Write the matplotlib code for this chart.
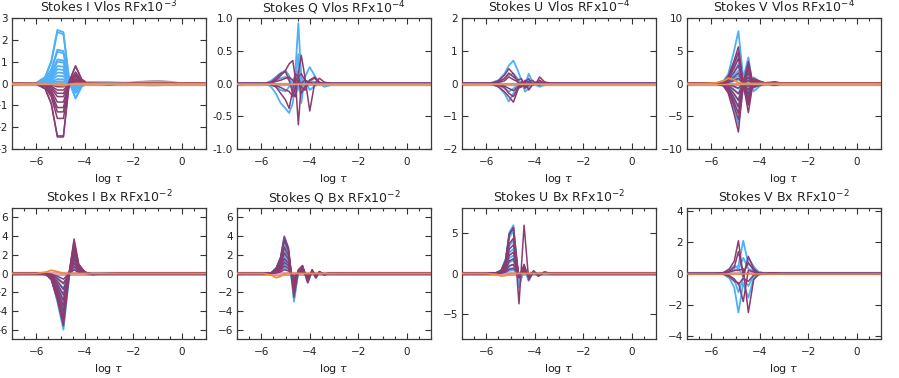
import matplotlib.pyplot as plt
import numpy as np
from matplotlib.ticker import MultipleLocator

# colours of the curve families
blue = '#4fb0f8'
purple = '#8a3b6f'
orange = '#f08a3c'
gray = '#a8a8a8'
pink = '#e2a3b4'

# ---- Stokes I, Vlos (x1e-3)
i_vlos_tau = [-7.0, -6.0, -5.63, -5.38, -5.13, -4.88, -4.63, -4.38, -4.13, -3.88, -3.0, -2.0, -0.3, 1.0]
i_vlos_blue = [0, 0.01, 0.12, 0.42, 1.0, 0.96, 0.02, -0.28, -0.06, 0.02, 0.02, 0.01, 0.0, 0]
i_vlos_blue_amp = [2.45, 2.35, 1.55, 1.45, 1.1, 1.0, 0.8, 0.65, 0.5, 0.35, 0.2, 0.1]
i_vlos_purple = [0, -0.01, -0.1, -0.38, -1.0, -1.0, 0.05, 0.33, 0.08, 0.0, -0.02, 0, 0, 0]
i_vlos_purple_amp = [2.45, 2.4, 1.6, 1.3, 1.1, 0.85, 0.6, 0.45, 0.3, 0.15]
i_vlos_orange = [0, 0, 0, -0.03, -0.08, -0.1, -0.03, 0, 0, 0, 0, 0, 0, 0]
i_vlos_gray_tau = [-7.0, -2.4, -1.8, -1.3, -0.9, -0.5, -0.1, 1.0]
i_vlos_gray = [[0, 0, 0.05, 0.09, 0.1, 0.06, 0, 0], [0, 0, -0.04, -0.07, -0.06, -0.03, 0, 0],
               [0, 0, 0.02, 0.04, 0.05, 0.03, 0, 0]]

# ---- Stokes Q, Vlos (x1e-4)
q_vlos_tau = [-7.0, -5.8, -5.6, -5.4, -5.2, -5.0, -4.85, -4.7, -4.6, -4.47, -4.35, -4.2, -4.0, -3.8, -3.6, -3.4, -3.1, -2.9, 1.0]
q_vlos_blue = [
    [0, 0, 0.02, 0.05, 0.08, 0.1, 0.05, -0.05, 0.15, 0.92, 0.1, -0.05, 0.0, 0, 0, 0, 0, 0, 0],
    [0, 0, -0.05, -0.15, -0.3, -0.38, -0.45, -0.3, 0.0, 0.45, -0.3, 0.1, 0.25, 0.12, 0.0, -0.05, -0.02, 0, 0],
    [0, 0.01, 0.04, 0.1, 0.16, 0.2, 0.12, -0.12, -0.2, -0.05, -0.2, 0.05, -0.1, -0.04, 0.0, 0, 0, 0, 0],
    [0, 0, -0.02, -0.05, -0.1, -0.12, -0.05, 0.05, 0.1, 0.2, 0.05, -0.1, 0.05, 0.02, 0, 0, 0, 0, 0],
]
q_vlos_purple = [
    [0, 0, 0.02, 0.05, 0.12, 0.2, 0.3, 0.35, 0.1, -0.63, 0.0, 0.05, 0.02, 0, 0, 0, 0, 0, 0],
    [0, 0, 0.01, 0.03, 0.05, 0.08, 0.1, 0.05, 0.0, 0.15, 0.43, 0.1, -0.42, 0.0, 0.08, 0.02, 0, 0, 0],
    [0, 0, -0.02, -0.05, -0.15, -0.25, -0.38, -0.1, 0.15, 0.1, -0.05, -0.1, 0.05, 0.1, 0.02, 0, 0, 0, 0],
    [0, 0, 0.02, 0.08, 0.15, 0.18, 0.05, -0.15, -0.2, 0.1, 0.15, 0.05, 0.0, -0.02, 0.0, 0, 0, 0, 0],
    [0, 0, -0.01, -0.03, -0.06, -0.1, -0.12, -0.2, -0.05, 0.05, -0.15, -0.05, 0.05, 0.08, 0.0, 0, 0, 0, 0],
]

# ---- Stokes U, Vlos (x1e-4)
u_vlos_tau = [-7.0, -6.3, -5.8, -5.5, -5.25, -5.07, -4.88, -4.7, -4.55, -4.4, -4.25, -4.1, -3.95, -3.8, -3.6, -3.3, -2.4, 1.0]
u_vlos_blue = [
    [0, 0, 0.02, 0.1, 0.3, 0.55, 0.7, 0.4, 0.1, -0.05, 0.3, 0.05, -0.05, -0.1, -0.05, 0.0, 0, 0],
    [0, 0, -0.02, -0.1, -0.3, -0.55, -0.3, -0.1, 0.05, -0.25, -0.15, 0.0, 0.05, 0.02, 0.0, 0, 0, 0],
    [0, 0, 0.01, 0.05, 0.15, 0.25, 0.3, 0.15, -0.05, -0.1, 0.1, 0.02, 0, -0.05, 0, 0, 0, 0],
    [0, 0, -0.01, -0.05, -0.15, -0.25, -0.15, -0.05, 0.05, 0.05, -0.1, 0, 0.02, 0, 0, 0, 0, 0],
]
u_vlos_purple = [
    [0, 0, 0.01, 0.08, 0.25, 0.45, 0.3, 0.05, -0.1, 0.05, 0.15, -0.05, 0.0, 0.2, 0.05, 0, 0, 0],
    [0, 0, -0.01, -0.1, -0.25, -0.4, -0.57, -0.2, 0.05, -0.15, -0.05, 0.0, -0.02, -0.05, 0, 0, 0, 0],
    [0, 0, 0.01, 0.05, 0.15, 0.32, 0.2, 0.1, 0.15, -0.1, 0.05, 0.1, 0, 0.1, 0, 0, 0, 0],
    [0, 0, -0.01, -0.05, -0.12, -0.3, -0.4, -0.15, -0.1, 0.05, -0.2, -0.05, 0, 0, 0, 0, 0, 0],
    [0, 0, 0, 0.03, 0.08, 0.2, 0.12, 0.05, -0.05, 0.1, 0.02, 0, 0, 0.05, 0, 0, 0, 0],
    [0, 0, 0, -0.03, -0.08, -0.15, -0.22, -0.1, 0, -0.05, 0.02, 0, 0, 0, 0, 0, 0, 0],
]

# ---- Stokes V, Vlos (x1e-4)
v_vlos_tau = [-7.0, -6.3, -5.8, -5.5, -5.3, -5.07, -4.88, -4.68, -4.47, -4.25, -4.0, -3.7, -3.4, -3.1, -2.2, 1.0]
v_vlos_blue = [0, 0, 0.01, 0.05, 0.18, 0.6, 1.0, 0.1, 0.5, -0.15, -0.05, 0.02, 0.03, 0.01, 0, 0]
v_vlos_blue_amp = [8.0, 4.3, 3.0, 2.0, 1.2, 0.6, -0.8, -1.5, -2.5, -3.5, -4.5, -6.3]
v_vlos_purple = [0, 0, 0.01, 0.05, 0.2, 0.6, 1.0, 0.0, 0.6, -0.1, -0.05, 0.0, 0.04, 0.01, 0, 0]
v_vlos_purple_amp = [5.6, 4.8, 3.8, 2.7, 1.6, 0.8, -0.7, -1.6, -2.6, -3.6, -4.6, -5.5, -7.4]
v_vlos_orange = [0, 0, 0.1, 0.4, 0.8, 0.6, 0.1, 0, 0, 0, 0, 0, 0, 0, 0, 0]

# ---- Stokes I, Bx (x1e-2)
i_bx_tau = [-7.0, -6.0, -5.6, -5.38, -5.13, -4.88, -4.63, -4.44, -4.25, -4.0, -3.7, -3.2, -2.5, 1.0]
i_bx_blue = [0, 0, -0.02, -0.08, -0.5, -1.0, 0.0, 0.45, 0.12, 0.02, -0.01, -0.01, 0, 0]
i_bx_blue_amp = [6.0, 5.6, 5.2, 4.6, 4.0, 3.4, 2.8, 2.2, 1.6, 1.0]
i_bx_purple = [0, 0, -0.02, -0.12, -0.5, -1.0, 0.05, 0.66, 0.18, 0.03, -0.02, -0.01, 0, 0]
i_bx_purple_amp = [5.6, 5.2, 4.7, 4.1, 3.5, 2.9, 2.3, 1.7, 1.1, 0.6]
i_bx_orange = [0, 0, 0.15, 0.35, 0.2, 0.0, 0, 0, 0, 0, 0, 0, 0, 0]

# ---- Stokes Q, Bx (x1e-2)
q_bx_tau = [-7.0, -5.9, -5.6, -5.38, -5.2, -5.05, -4.88, -4.65, -4.47, -4.3, -4.08, -3.9, -3.75, -3.6, -3.4, -3.2, -2.6, 1.0]
q_bx_blue = [0, 0, 0.01, 0.15, 0.42, 1.0, 0.68, -0.75, 0.05, 0.2, -0.25, 0.1, -0.12, 0.05, -0.04, 0.01, 0, 0]
q_bx_blue_amp = [4.0, 3.7, 3.1, 2.5, 1.9, 1.4, 1.0, 0.6]
q_bx_purple = [0, 0, 0.01, 0.15, 0.45, 1.0, 0.7, -0.65, 0.1, 0.22, -0.25, 0.1, -0.12, 0.05, -0.04, 0.01, 0, 0]
q_bx_purple_amp = [3.9, 3.5, 2.8, 2.2, 1.6, 1.2, 0.8, 0.4]
q_bx_orange = [0, 0, -0.15, -0.45, -0.3, -0.05, 0, 0, 0, 0, 0, 0, 0, 0, 0, 0, 0, 0]

# ---- Stokes U, Bx (x1e-2)
u_bx_tau = [-7.0, -6.0, -5.6, -5.38, -5.2, -5.05, -4.88, -4.65, -4.44, -4.25, -4.05, -3.85, -3.6, -3.3, -3.0, 1.0]
u_bx_blue = [0, 0, 0.01, 0.07, 0.3, 0.85, 1.0, -0.3, 0.15, -0.15, 0.05, -0.05, 0.03, -0.01, 0, 0]
u_bx_blue_amp = [5.9, 5.6, 5.2, 4.0, 3.0, 2.2, 1.6, 1.1, 0.7, 0.4]
u_bx_purple = [0, 0, 0.01, 0.07, 0.3, 0.85, 1.0, -0.1, 0.2, -0.1, 0.05, -0.05, 0.03, 0, 0, 0]
u_bx_purple_amp = [5.6, 4.3, 3.5, 2.6, 1.8, 1.1, 0.6]
u_bx_purple_spike = [0, 0, 0.05, 0.4, 1.5, 4.8, 5.6, -3.7, 5.9, -0.8, 0.3, -0.3, 0.1, -0.05, 0, 0]
u_bx_orange = [0, 0, -0.1, -0.3, -0.25, -0.05, 0, 0, 0, 0, 0, 0, 0, 0, 0, 0]

# ---- Stokes V, Bx (x1e-2)
v_bx_tau = [-7.0, -5.9, -5.5, -5.25, -5.05, -4.88, -4.68, -4.47, -4.25, -4.05, -3.8, -3.4, -3.2, -2.3, 1.0]
v_bx_blue = [
    [0, 0, 0.05, 0.2, 0.35, 0.5, 2.1, 0.6, 0.35, 0.1, 0.02, 0, 0, 0, 0],
    [0, 0, -0.05, -0.3, -0.9, -2.5, -0.6, -1.55, -0.3, -0.1, 0, 0, 0, 0, 0],
    [0, 0, 0.03, 0.2, 0.5, 0.3, -0.2, 1.0, 0.45, 0.1, 0, 0, 0, 0, 0],
    [0, 0, -0.03, -0.15, -0.4, -1.2, -0.3, -0.8, -0.15, -0.05, 0, 0, 0, 0, 0],
    [0, 0, 0.02, 0.1, 0.2, 0.25, 1.0, 0.3, 0.15, 0.05, 0, 0, 0, 0, 0],
]
v_bx_purple = [
    [0, 0, 0.05, 0.3, 0.8, 2.1, -0.2, 1.1, 0.3, 0.05, 0, 0.05, 0, 0, 0],
    [0, 0, -0.03, -0.2, -0.5, -0.6, -1.8, 0.2, 0.1, 0, 0, 0, 0, 0, 0],
    [0, 0, 0.02, 0.1, 0.2, 0.2, 0.3, -2.5, -0.4, -0.05, 0, -0.03, 0, 0, 0],
    [0, 0, 0.03, 0.15, 0.4, 1.4, 0.0, 0.7, 0.2, 0.03, 0, 0.05, 0, 0, 0],
    [0, 0, -0.02, -0.15, -0.35, -0.7, -0.3, -0.5, -0.1, 0, 0, 0, 0, 0, 0],
]

# flat levels under the bottom row curves
bx_blue_level = [-0.15, -0.15, -0.15, -0.06]
bx_pink_level = [0.08, 0.08, 0.1, 0.04]

titles = ['Stokes I Vlos RFx10$^{-3}$', 'Stokes Q Vlos RFx10$^{-4}$',
          'Stokes U Vlos RFx10$^{-4}$', 'Stokes V Vlos RFx10$^{-4}$',
          'Stokes I Bx RFx10$^{-2}$', 'Stokes Q Bx RFx10$^{-2}$',
          'Stokes U Bx RFx10$^{-2}$', 'Stokes V Bx RFx10$^{-2}$']
ylims = [3, 1, 2, 10, 7, 7, 8, 4.2]
ysteps = [1, 0.5, 1, 5, 2, 2, 5, 2]


def scaled(shape, amps):
    return [a * np.array(shape) for a in amps]


plt.rcParams['mathtext.fontset'] = 'dejavusans'
fig = plt.figure(figsize=(8.99, 3.78), dpi=100)
lefts = [12, 237, 462, 687]
axes = []
for row, top in enumerate([18, 208]):
    for left in lefts:
        axes.append(fig.add_axes([left / 899, 1 - (top + 131) / 378, 194 / 899, 131 / 378]))

panels = [
    (i_vlos_tau, scaled(i_vlos_blue, i_vlos_blue_amp), scaled(i_vlos_purple, i_vlos_purple_amp), i_vlos_orange),
    (q_vlos_tau, q_vlos_blue, q_vlos_purple, None),
    (u_vlos_tau, u_vlos_blue, u_vlos_purple, None),
    (v_vlos_tau, scaled(v_vlos_blue, v_vlos_blue_amp), scaled(v_vlos_purple, v_vlos_purple_amp), v_vlos_orange),
    (i_bx_tau, scaled(i_bx_blue, i_bx_blue_amp), scaled(i_bx_purple, i_bx_purple_amp), i_bx_orange),
    (q_bx_tau, scaled(q_bx_blue, q_bx_blue_amp), scaled(q_bx_purple, q_bx_purple_amp), q_bx_orange),
    (u_bx_tau, scaled(u_bx_blue, u_bx_blue_amp), scaled(u_bx_purple, u_bx_purple_amp) + [u_bx_purple_spike], u_bx_orange),
    (v_bx_tau, v_bx_blue, v_bx_purple, None),
]

for k, ax in enumerate(axes):
    tau, bl, pu, orr = panels[k]
    if k < 4:
        ax.axhline(0, color=gray, lw=2.4, zorder=1)
    else:
        ax.axhline(bx_blue_level[k - 4], color=blue, lw=1.2, zorder=1)
        ax.axhline(bx_pink_level[k - 4], color=pink, lw=2.4, zorder=1)
    if k == 0:
        for g in i_vlos_gray:
            ax.plot(i_vlos_gray_tau, g, color=gray, lw=2.0, zorder=2)
    for c in bl:
        ax.plot(tau, c, color=blue, lw=1.3, zorder=2)
    for c in pu:
        ax.plot(tau, c, color=purple, lw=1.1, zorder=3)
    if orr is not None:
        ax.plot(tau, orr, color=orange, lw=1.3, zorder=4)
    else:
        ax.axhline(0, color=orange, lw=1.3, alpha=0.8, zorder=4)
    if k < 4:
        ax.axhline(0, color='#e8946a', lw=1.0, zorder=4)

    ax.set_xlim(-7, 1)
    ax.set_ylim(-ylims[k], ylims[k])
    ax.set_xticks([-6, -4, -2, 0])
    ax.xaxis.set_minor_locator(MultipleLocator(0.5))
    ax.yaxis.set_major_locator(MultipleLocator(ysteps[k]))
    if k == 1:
        ax.set_yticklabels(['%.1f' % v for v in ax.get_yticks()])
    ax.tick_params(direction='in', which='both', top=True, right=True, colors='#333333',
                   labelcolor='#222222', labelsize=7.5, width=0.8)
    ax.tick_params(which='major', length=4)
    ax.tick_params(which='minor', length=2)
    ax.tick_params(axis='x', pad=6)
    ax.tick_params(axis='y', pad=3)
    for s in ax.spines.values():
        s.set_color('#3a3a3a')
        s.set_linewidth(0.9)
    ax.set_title(titles[k], fontsize=9, color='#222222', pad=4)
    ax.set_xlabel(r'log $\tau$', fontsize=8, color='#222222', labelpad=3)

fig.savefig('out.png', dpi=100)
